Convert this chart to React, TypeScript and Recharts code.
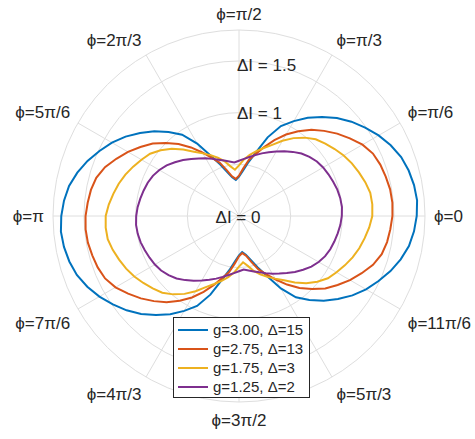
import React from 'react';
import {
  RadarChart,
  Radar,
  PolarGrid,
  PolarAngleAxis,
  PolarRadiusAxis,
  Legend,
} from 'recharts';

// angles read every 5 degrees over one quadrant (0..90), curves are symmetric
const QUADRANT_ANGLES = [0, 5, 10, 15, 20, 25, 30, 35, 40, 45, 50, 55, 60, 65, 70, 75, 80, 85, 90];
const BLUE_Q = [1.73, 1.72, 1.7, 1.67, 1.62, 1.56, 1.49, 1.42, 1.34, 1.25, 1.16, 1.06, 0.96, 0.81, 0.64, 0.53, 0.44, 0.38, 0.35];
const RED_Q = [1.49, 1.485, 1.47, 1.455, 1.43, 1.38, 1.31, 1.24, 1.165, 1.09, 1.0, 0.91, 0.81, 0.71, 0.62, 0.55, 0.46, 0.39, 0.36];
const YELLOW_Q = [1.295, 1.29, 1.265, 1.235, 1.205, 1.17, 1.13, 1.09, 1.05, 0.99, 0.92, 0.84, 0.76, 0.7, 0.65, 0.6, 0.55, 0.49, 0.45];
const PURPLE_Q = [1.0, 0.995, 0.985, 0.97, 0.955, 0.94, 0.92, 0.89, 0.855, 0.81, 0.765, 0.72, 0.68, 0.645, 0.61, 0.58, 0.555, 0.535, 0.52];

const SERIES = [
  { key: 'blue', name: 'g=3.00, Δ=15', color: '#0072BD', values: BLUE_Q },
  { key: 'red', name: 'g=2.75, Δ=13', color: '#D95319', values: RED_Q },
  { key: 'yellow', name: 'g=1.75, Δ=3', color: '#EDB120', values: YELLOW_Q },
  { key: 'purple', name: 'g=1.25, Δ=2', color: '#7E2F8E', values: PURPLE_Q },
];

const PHI_LABELS = [
  'ϕ=0', 'ϕ=π/6', 'ϕ=π/3', 'ϕ=π/2', 'ϕ=2π/3', 'ϕ=5π/6',
  'ϕ=π', 'ϕ=7π/6', 'ϕ=4π/3', 'ϕ=3π/2', 'ϕ=5π/3', 'ϕ=11π/6',
];
const R_LABELS = [0, 1, 1.5];
const GRID_R = [0.5, 1, 1.5, 1.8];

const CX = 239;
const CY = 216;
const OUTER = 186;
const R_MAX = 1.8;
const TEXT = '#262626';
const FONT = '"Liberation Sans", Arial, sans-serif';
const AXIS_FONT = 17;

// mirror the quadrant readings round the full circle
const foldAngle = (a: number) => {
  if (a <= 90) return a;
  if (a <= 180) return 180 - a;
  if (a <= 270) return a - 180;
  return 360 - a;
};

const data = Array.from({ length: 72 }, (_, i) => {
  const angle = i * 5;
  const idx = QUADRANT_ANGLES.indexOf(foldAngle(angle));
  const row: Record<string, number> = { angle };
  SERIES.forEach(s => {
    row[s.key] = s.values[idx];
  });
  return row;
});

const AngleTick = (props: any) => {
  const deg = Number(props.payload?.value);
  if (deg % 30 !== 0) return null;
  const label = PHI_LABELS[deg / 30];
  const rad = (deg * Math.PI) / 180;
  const c = Math.cos(rad);
  const s = Math.sin(rad);
  const r = OUTER + 9;
  const x = CX + r * c;
  const y = CY - r * s;
  const anchor = c > 0.01 ? 'start' : c < -0.01 ? 'end' : 'middle';
  const baseY = s > 0.01 ? y - 1 : s < -0.01 ? y + 15 : y + 6;
  return (
    <text x={x} y={baseY} textAnchor={anchor} fontSize={AXIS_FONT} fontFamily={FONT} fill={TEXT}>
      {label}
    </text>
  );
};

// labels of the r axis: 0 centred, the others just right of the vertical spoke
const RadiusLabel = (props: any) => {
  const v = Number(props.payload?.value);
  const hit = R_LABELS.find(t => Math.abs(t - v) < 1e-6);
  if (hit === undefined) return null;
  if (hit === 0) {
    return (
      <text x={props.x - 1} y={props.y + 7} textAnchor="middle" fontSize={AXIS_FONT} fontFamily={FONT} fill={TEXT}>
        ΔI = 0
      </text>
    );
  }
  return (
    <text x={props.x - 2} y={props.y + 6 + (hit === 1.5 ? 4 : 0)} textAnchor="start" fontSize={AXIS_FONT} fontFamily={FONT} fill={TEXT}>
      {`ΔI = ${hit}`}
    </text>
  );
};

const LegendBox = () => (
  <div
    style={{
      width: 131,
      height: 77,
      border: '1px solid #262626',
      background: 'white',
      padding: '2px 0 0 4px',
      boxSizing: 'content-box',
      fontFamily: FONT,
      fontSize: 15,
      color: TEXT,
    }}
  >
    {SERIES.map(s => (
      <div key={s.key} style={{ display: 'flex', alignItems: 'center', height: 19 }}>
        <span style={{ display: 'inline-block', width: 30, height: 2, background: s.color, marginRight: 5 }} />
        <span style={{ whiteSpace: 'nowrap' }}>{s.name}</span>
      </div>
    ))}
  </div>
);

export default function App() {
  return (
    <div style={{ position: 'absolute', left: 0, top: 0, width: 475, height: 439, background: 'white' }}>
      <RadarChart
        width={475}
        height={439}
        data={data}
        cx={CX}
        cy={CY}
        outerRadius={OUTER}
        startAngle={0}
        endAngle={360}
        margin={{ top: 0, right: 0, bottom: 0, left: 0 }}
      >
        <PolarGrid
          gridType="circle"
          stroke="#dedede"
          polarAngles={PHI_LABELS.map((_, i) => i * 30)}
          polarRadius={GRID_R.map(r => (r / R_MAX) * OUTER)}
        />
        <PolarAngleAxis dataKey="angle" tickLine={false} axisLine={false} tick={AngleTick} />
        {/* steps of 0.1 keep the domain at exactly [0, 1.8] */}
        <PolarRadiusAxis
          type="number"
          angle={90}
          domain={[0, R_MAX]}
          allowDecimals
          tickCount={19}
          axisLine={false}
          tickLine={false}
          tick={RadiusLabel}
        />
        {SERIES.map(s => (
          <Radar
            key={s.key}
            name={s.name}
            dataKey={s.key}
            stroke={s.color}
            strokeWidth={2}
            fill="none"
            dot={false}
            isAnimationActive={false}
          />
        ))}
        <Legend
          content={<LegendBox />}
          wrapperStyle={{ position: 'absolute', left: 173, top: 317, bottom: 'auto', width: 'auto' }}
        />
      </RadarChart>
    </div>
  );
}
